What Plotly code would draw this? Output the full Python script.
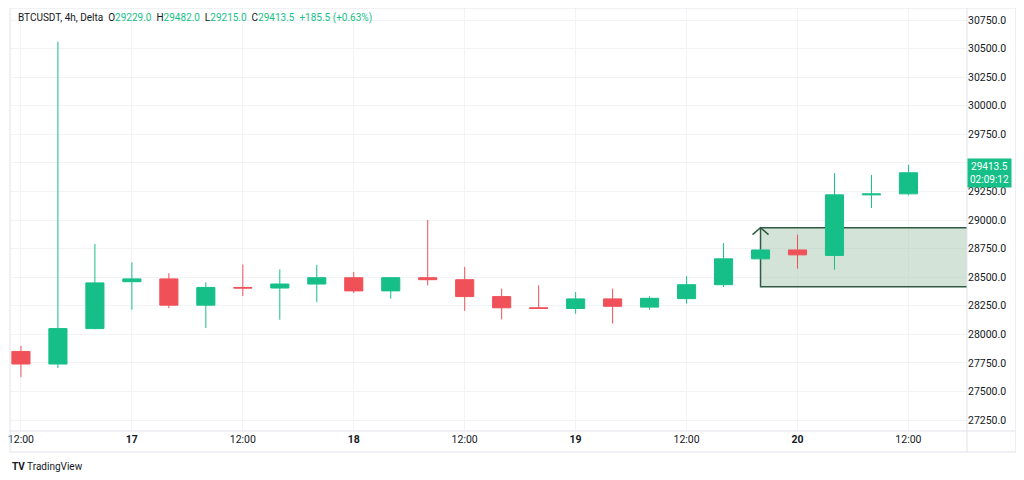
import plotly.graph_objects as go

# 4h candles, BTCUSDT on Delta
times = [
    "2023-04-16 12:00", "2023-04-16 16:00", "2023-04-16 20:00",
    "2023-04-17 00:00", "2023-04-17 04:00", "2023-04-17 08:00", "2023-04-17 12:00",
    "2023-04-17 16:00", "2023-04-17 20:00",
    "2023-04-18 00:00", "2023-04-18 04:00", "2023-04-18 08:00", "2023-04-18 12:00",
    "2023-04-18 16:00", "2023-04-18 20:00",
    "2023-04-19 00:00", "2023-04-19 04:00", "2023-04-19 08:00", "2023-04-19 12:00",
    "2023-04-19 16:00", "2023-04-19 20:00",
    "2023-04-20 00:00", "2023-04-20 04:00", "2023-04-20 08:00", "2023-04-20 12:00",
]
opens = [27850, 27740, 28050, 28460, 28485, 28255, 28410, 28405, 28440,
         28495, 28380, 28495, 28478, 28330, 28232, 28226, 28310, 28238,
         28312, 28434, 28660, 28738, 28690, 29220, 29229]
highs = [27900, 30560, 28790, 28630, 28535, 28455, 28610, 28568, 28608,
         28545, 28500, 29000, 28590, 28400, 28428, 28370, 28400, 28333,
         28508, 28798, 28745, 28873, 29410, 29395, 29482]
lows = [27625, 27705, 28045, 28215, 28228, 28055, 28335, 28128, 28282,
        28360, 28312, 28428, 28205, 28130, 28222, 28180, 28094, 28216,
        28268, 28414, 28655, 28575, 28565, 29105, 29215]
closes = [27740, 28050, 28450, 28485, 28255, 28410, 28405, 28440, 28495,
          28380, 28495, 28478, 28330, 28232, 28226, 28310, 28245, 28315,
          28434, 28660, 28738, 28695, 29220, 29228, 29413.5]

# drawn box (position tool)
box_start = "2023-04-19 20:00"
box_top = 28933
box_bottom = 28416

price_ticks = [27250, 27500, 27750, 28000, 28250, 28500, 28750, 29000,
               29250, 29500, 29750, 30000, 30250, 30500, 30750]
time_ticks = ["2023-04-16 12:00", "2023-04-17 00:00", "2023-04-17 12:00",
              "2023-04-18 00:00", "2023-04-18 12:00", "2023-04-19 00:00",
              "2023-04-19 12:00", "2023-04-20 00:00", "2023-04-20 12:00"]
time_labels = ["12:00", "<b>17</b>", "12:00", "<b>18</b>", "12:00",
               "<b>19</b>", "12:00", "<b>20</b>", "12:00"]
countdown = "02:09:12"

GREEN = "#17bf88"
RED = "#f05159"
TXT = "#131722"
FRAME = "#e0e3eb"

fig = go.Figure(go.Candlestick(
    x=times, open=opens, high=highs, low=lows, close=closes,
    increasing=dict(line=dict(color=GREEN, width=1), fillcolor=GREEN),
    decreasing=dict(line=dict(color=RED, width=1), fillcolor=RED),
    whiskerwidth=0, showlegend=False, hoverinfo="skip",
))

# position box + arrow (between grid and candles)
fig.add_shape(type="rect", xref="x", yref="y", x0=box_start, x1="2023-04-21 12:00",
              y0=box_bottom, y1=box_top, layer="between",
              fillcolor="rgba(170,200,175,0.5)", line=dict(color="#2e5c42", width=1.5))
fig.add_shape(type="path", xref="x", yref="y", xsizemode="pixel", ysizemode="pixel",
              xanchor=box_start, yanchor=box_top, path="M -8,-7 L 0,0 L 8,-7",
              line=dict(color="#2e5c42", width=1.5))

# frame around the chart and axes
for s in [dict(x0=0, x1=1.0511, y0=1, y1=1), dict(x0=0, x1=1.0511, y0=0, y1=0),
          dict(x0=0, x1=1.0511, y0=-0.0496, y1=-0.0496),
          dict(x0=0, x1=0, y0=-0.0496, y1=1), dict(x0=1, x1=1, y0=-0.0496, y1=1),
          dict(x0=1.0511, x1=1.0511, y0=-0.0496, y1=1)]:
    fig.add_shape(type="line", xref="paper", yref="paper", line=dict(color=FRAME, width=1), **s)

last = len(closes) - 1
chg = closes[last] - closes[last - 1]
pct = chg / closes[last - 1] * 100
header = (f"BTCUSDT, 4h, Delta  "
          f"O<span style='color:{GREEN}'>{opens[last]:.1f}</span>  "
          f"H<span style='color:{GREEN}'>{highs[last]:.1f}</span>  "
          f"L<span style='color:{GREEN}'>{lows[last]:.1f}</span>  "
          f"C<span style='color:{GREEN}'>{closes[last]:.1f}</span>  "
          f"<span style='color:{GREEN}'>+{chg:.1f} (+{pct:.2f}%)</span>")
fig.add_annotation(xref="paper", yref="paper", x=0.0063, y=0.976, xanchor="left",
                   yanchor="middle", text=header, showarrow=False,
                   font=dict(size=10, color=TXT))

fig.add_annotation(xref="paper", yref="y", x=1.0, y=closes[last], xanchor="left",
                   yanchor="middle", text=f"{closes[last]:.1f}<br>{countdown}",
                   showarrow=False, bgcolor=GREEN, borderpad=2, align="center",
                   font=dict(size=10, color="white"))

fig.add_annotation(xref="paper", yref="paper", x=0.0, y=-0.083, xanchor="left",
                   yanchor="middle", text="<b>TV</b> TradingView", showarrow=False,
                   font=dict(size=10, color=TXT))

# page keeps its default 8px body margin, so the figure is 16px smaller than the window
fig.update_layout(
    width=1008, height=464,
    margin=dict(l=0, r=49, t=0, b=41),
    paper_bgcolor="white", plot_bgcolor="white",
    font=dict(family="Roboto, sans-serif", color=TXT),
    xaxis=dict(
        type="date", range=["2023-04-16 10:49", "2023-04-20 18:20"],
        tickvals=time_ticks, ticktext=time_labels, tickfont=dict(size=10.5),
        ticklabeloverflow="allow",
        showgrid=True, gridcolor="#f2f3f6", gridwidth=1, zeroline=False,
        rangeslider=dict(visible=False), ticks="", showline=False, fixedrange=True,
    ),
    yaxis=dict(
        side="right", range=[27154, 30855], tickvals=price_ticks,
        ticktext=[f"{v:.1f}" for v in price_ticks], tickfont=dict(size=10.5),
        showgrid=True, gridcolor="#f2f3f6", gridwidth=1, zeroline=False,
        ticks="", showline=False, fixedrange=True,
    ),
)

fig.write_html("out.html")
